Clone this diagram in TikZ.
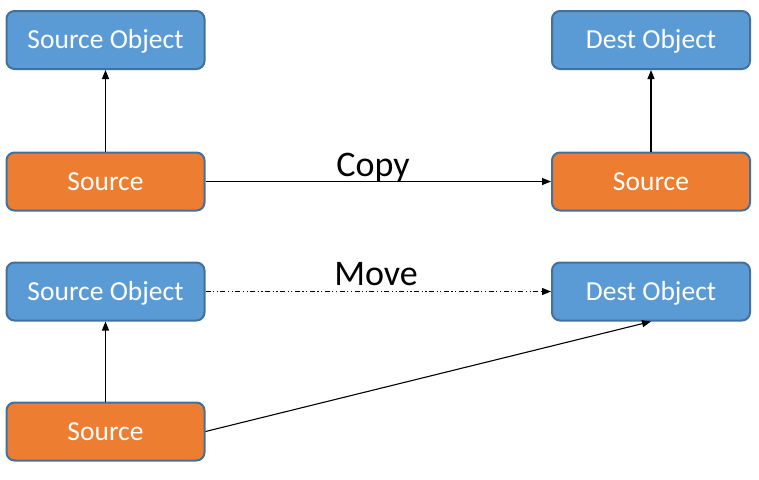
\documentclass[tikz,border=0pt]{standalone}
\usepackage{fontspec}
\setmainfont{Carlito}
\usetikzlibrary{arrows.meta}
\definecolor{boxblue}{HTML}{5B9BD5}
\definecolor{boxorange}{HTML}{ED7D31}
\definecolor{boxedge}{HTML}{41719C}
\begin{document}
\begin{tikzpicture}[x=1pt,y=-1pt,
  base/.style={draw=boxedge,line width=2pt,rounded corners=8pt,minimum width=198pt,minimum height=58pt,inner sep=0pt,text=white,font=\fontsize{27.5}{32}\selectfont,text height=17.7pt,text depth=0pt},
  objbox/.style={base,fill=boxblue},
  srcbox/.style={base,fill=boxorange},
  conn/.style={line width=1.1pt,-{Triangle[length=9pt,width=7pt]}},
  lbl/.style={font=\fontsize{36}{42}\selectfont,text=black,inner sep=0pt}
]
\useasboundingbox (0,0) rectangle (759,479);
\node[objbox] (so1) at (105.5,40) {Source Object};
\node[objbox] (do1) at (651,40) {Dest Object};
\node[srcbox] (s1) at (105.5,181.5) {Source};
\node[srcbox] (s2) at (651,181.5) {Source};
\node[objbox] (so2) at (105.5,291.5) {Source Object};
\node[objbox] (do2) at (651,291.5) {Dest Object};
\node[srcbox] (s3) at (105.5,431.5) {Source};

\draw[conn] (s1.north) -- (so1.south);
\draw[conn] (s2.north) -- (do1.south);
\draw[conn] (s1.east) -- (s2.west);
\draw[conn,dash pattern=on 5pt off 2.5pt on 1.2pt off 2.5pt on 1.2pt off 2.5pt] (so2.east) -- (do2.west);
\draw[conn] (s3.north) -- (so2.south);
\draw[conn] (s3.east) -- (do2.south);

\node[lbl,anchor=base] (copy) at (373,176) {Copy};
\node[lbl,anchor=base] (move) at (376,285) {Move};
\end{tikzpicture}
\end{document}
